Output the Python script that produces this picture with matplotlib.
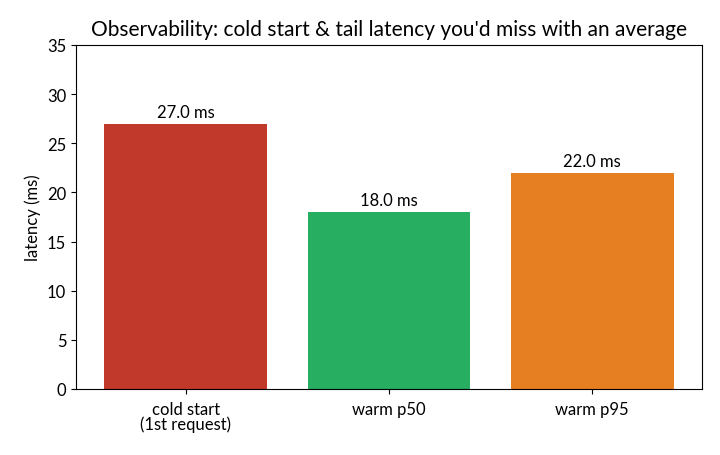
import matplotlib
matplotlib.use("Agg")
import matplotlib.pyplot as plt

categories = ["cold start\n(1st request)", "warm p50", "warm p95"]
values = [27.0, 18.0, 22.0]
colors = ["#c0392b", "#27ae60", "#e67e22"]
title = "Observability: cold start & tail latency you'd miss with an average"

plt.rcParams['font.family'] = ['Lato', 'DejaVu Sans']

fig = plt.figure(figsize=(7.2, 4.56), dpi=100)
ax = fig.add_axes([76/720, 1-390/456, (702-76)/720, (390-46)/456])
x = list(range(len(categories)))
bars = ax.bar(x, values, width=0.8, color=colors)
for xi, v in zip(x, values):
    ax.text(xi, v + 0.4, f"{v:.1f} ms", ha="center", va="bottom", fontsize=12)
ax.set_xticks(x)
ax.set_xticklabels(categories, fontsize=12, linespacing=0.9)
ax.tick_params(axis='x', pad=5)
ax.set_ylim(0, 35)
ax.set_yticks(range(0, 36, 5))
ax.tick_params(axis='y', labelsize=12)
ax.set_ylabel("latency (ms)", fontsize=12)
ax.set_title(title, fontsize=15, pad=7)
fig.savefig("out.png", dpi=100)
